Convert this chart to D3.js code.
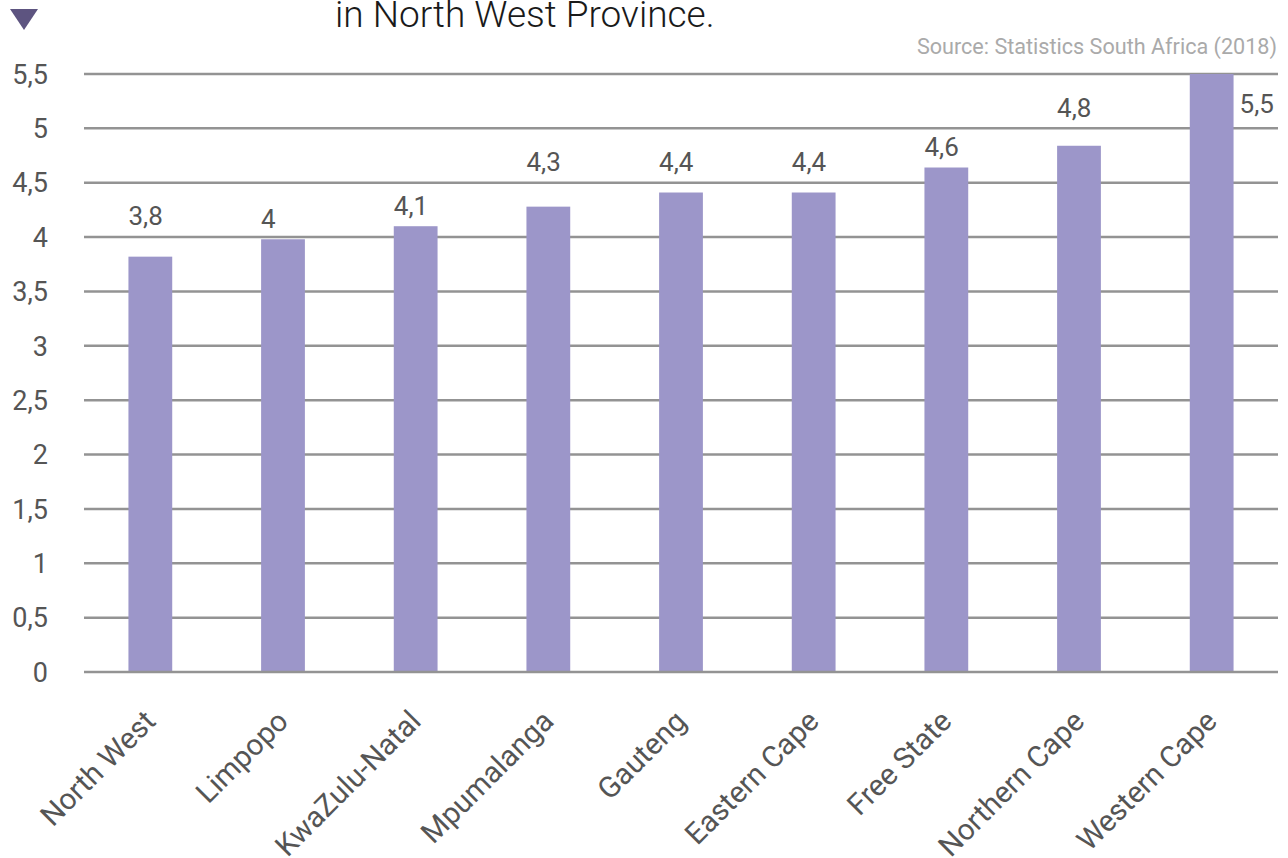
<!doctype html>
<html>
  <head>
    <script src="https://cdn.jsdelivr.net/npm/d3@7/dist/d3.min.js"></script>
    <style>
      body { margin: 0; background: #fff; }
      text { font-family: Roboto, "Noto Sans", sans-serif; }
    </style>
  </head>
  <body>
    <div id="chart"></div>
    <script>
      // data
      var provinces = ["North West", "Limpopo", "KwaZulu-Natal", "Mpumalanga", "Gauteng",
                       "Eastern Cape", "Free State", "Northern Cape", "Western Cape"];
      var values = [3.82, 3.98, 4.1, 4.28, 4.41, 4.41, 4.64, 4.84, 5.5];
      var yTicks = [0, 0.5, 1, 1.5, 2, 2.5, 3, 3.5, 4, 4.5, 5, 5.5];

      var width = 1288, height = 858;
      var plotLeft = 84, plotRight = 1278, plotTop = 74, plotBottom = 672;

      var svg = d3.select("#chart").append("svg")
        .attr("width", width)
        .attr("height", height);

      var x = d3.scaleBand().domain(provinces).range([plotLeft, plotRight]).paddingInner(0.67).paddingOuter(0.335);
      var y = d3.scaleLinear().domain([0, 5.5]).range([plotBottom, plotTop]);

      // comma decimal like the original
      var fmt = function(v) { return String(+v.toFixed(1)).replace(".", ","); };

      // triangle marker + cut-off title line
      svg.append("path")
        .attr("d", "M10,9 L38,9 L24,30 Z")
        .attr("fill", "#5d5480");
      svg.append("text")
        .attr("x", 335).attr("y", 27)
        .attr("font-size", 37).attr("font-weight", 300)
        .attr("fill", "#1a1a1a")
        .text("in North West Province.");

      svg.append("text")
        .attr("x", 1277).attr("y", 54)
        .attr("text-anchor", "end")
        .attr("font-size", 21.6)
        .attr("fill", "#aaa")
        .text("Source: Statistics South Africa (2018)");

      // gridlines
      svg.append("g").selectAll("line")
        .data(yTicks.filter(function(t) { return t > 0; }))
        .enter().append("line")
        .attr("x1", plotLeft).attr("x2", plotRight)
        .attr("y1", function(d) { return y(d); })
        .attr("y2", function(d) { return y(d); })
        .attr("stroke", "#939393")
        .attr("stroke-width", 2.5);

      // y labels
      svg.append("g").selectAll("text")
        .data(yTicks)
        .enter().append("text")
        .attr("x", 48)
        .attr("y", function(d) { return y(d); })
        .attr("dy", "0.36em")
        .attr("text-anchor", "end")
        .attr("font-size", 27)
        .attr("fill", "#555")
        .text(fmt);

      // bars
      var data = provinces.map(function(p, i) { return { name: p, value: values[i] }; });
      svg.append("g").selectAll("rect")
        .data(data)
        .enter().append("rect")
        .attr("x", function(d) { return x(d.name); })
        .attr("y", function(d) { return y(Math.min(d.value, 5.5)); })
        .attr("width", x.bandwidth())
        .attr("height", function(d) { return plotBottom - y(Math.min(d.value, 5.5)); })
        .attr("fill", "#9c96c9");

      // zero line on top
      svg.append("line")
        .attr("x1", plotLeft).attr("x2", plotRight)
        .attr("y1", plotBottom).attr("y2", plotBottom)
        .attr("stroke", "#939393")
        .attr("stroke-width", 2.5);

      // value labels: above bar, nudged off gridlines; beside bar when no room on top
      var noRoom = function(d) { return y(d.value) - 40 < plotTop; };
      var labelY = function(d) {
        if (noRoom(d)) return y(d.value) + 30;
        var c = y(d.value) - 21;
        yTicks.forEach(function(t) {
          if (Math.abs(c - y(t)) < 14) c = y(t) - 21;
        });
        return c;
      };
      svg.append("g").selectAll("text")
        .data(data)
        .enter().append("text")
        .attr("x", function(d) {
          return noRoom(d) ? x(d.name) + x.bandwidth() + 6 : x(d.name);
        })
        .attr("y", labelY)
        .attr("dy", "0.36em")
        .attr("font-size", 26)
        .attr("fill", "#555")
        .text(function(d) { return fmt(d.value); });

      // rotated category labels
      svg.append("g").selectAll("text")
        .data(provinces)
        .enter().append("text")
        .attr("transform", function(d) {
          return "translate(" + (x(d) + x.bandwidth() / 2 + 7) + "," + 723 + ") rotate(-45)";
        })
        .attr("text-anchor", "end")
        .attr("font-size", 29.5)
        .attr("fill", "#555")
        .text(function(d) { return d; });
    </script>
  </body>
</html>
